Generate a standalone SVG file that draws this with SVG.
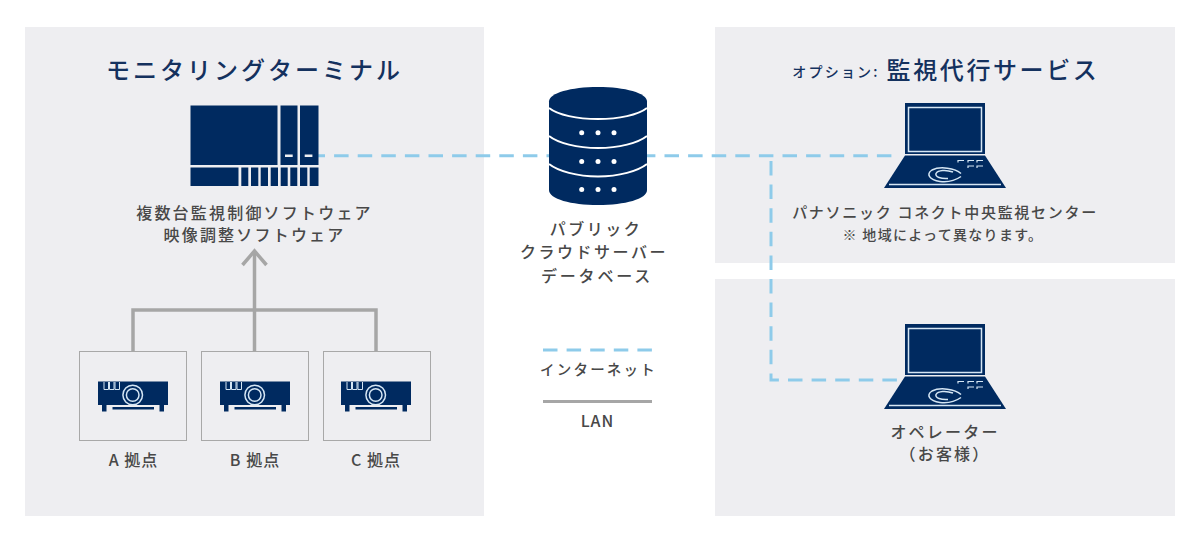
<svg xmlns="http://www.w3.org/2000/svg" width="1200" height="542" viewBox="0 0 1200 542">
<style>
text{font-family:"Noto Sans CJK JP","Noto Sans",sans-serif;text-anchor:middle}
.p{fill:#eeeef1}
.l{font-size:16px;font-weight:500;letter-spacing:2.200px;fill:#484848}
.t{font-size:24px;font-weight:500;letter-spacing:3px;fill:#14315e}
.s{font-size:16px;letter-spacing:1px}
.n{fill:#002a60}
.net{fill:none;stroke:#8ecbea;stroke-width:3;stroke-dasharray:14.500 9.100}
.lan{fill:none;stroke:#a6a6a6;stroke-width:3.500}
.box{fill:#eeeef1;stroke:#a8a8a8;stroke-width:1}
.lt{fill:none;stroke:#d5e6f4;stroke-width:1.500}
</style>
<defs>
<g id="projector">
<rect class="n" x="98" y="381.500" width="70" height="23.500"/>
<rect class="n" x="102" y="405" width="4.500" height="6.500"/>
<rect class="n" x="159.500" y="405" width="4.500" height="6.500"/>
<rect class="n" x="112.500" y="407" width="41.500" height="2.500"/>
<path class="lt" style="stroke-width:1" d="M104 382v7.500h4.500v-7.500M109.500 382v7.500h4.500v-7.500M115 382v7.500h4.500v-7.500"/>
<circle cx="132.700" cy="395" r="9.800" class="lt"/>
<circle cx="132.700" cy="395" r="6.300" class="lt"/>
</g>
<g id="laptop">
<rect class="n" x="905" y="103" width="80" height="51"/>
<rect x="908.500" y="107.500" width="73" height="44" fill="none" stroke="#d5e6f4" stroke-width="1.500"/>
<path class="n" d="M905 155.500H985L1006 188H884Z"/>
<path class="lt" d="M889 184.500H1001"/>
<path class="lt" style="stroke-width:1.200" d="M958 162.500v-2h6M968 162.500v-2h6M977 162.500v-2h6M968 168v-2h6M977 168v-2h6"/>
<path class="lt" d="M961 173.500C955 168 940 166 932 170C926 174 929 180 940 181.500C948 182.500 956 180 961 176.500M953 172C946 169.500 938 170 936 173.500C935 177 941 179 948 178.500"/>
</g>
</defs>
<rect width="1200" height="542" fill="#fff"/>
<g id="panels">
<rect class="p" x="25" y="27" width="459" height="489"/>
<rect class="p" x="715" y="27" width="460" height="236"/>
<rect class="p" x="715" y="279" width="460" height="237"/>
</g>
<g id="connectors">
<path class="net" stroke-dashoffset="7.500" d="M318 155.700H893"/>
<path class="net" d="M771 161V380H897"/>
<path class="lan" d="M133 351V310H376V351M254.500 351V252"/>
<path class="lan" d="M242.500 265L254.500 251L266.500 265"/>
<path class="net" d="M543 350H652"/>
<path class="lan" style="stroke-width:3" d="M543 401.500H652"/>
</g>
<text class="t" x="254.500" y="79">モニタリングターミナル</text>
<g id="terminal">
<rect class="n" x="190.500" y="105.500" width="87" height="59.500"/>
<rect class="n" x="280.500" y="105.500" width="17" height="59.500"/>
<rect class="n" x="300" y="105.500" width="18.500" height="59.500"/>
<rect class="n" x="190.500" y="167.500" width="48" height="18.500"/>
<rect class="n" x="241.300" y="167.500" width="7" height="18.500"/>
<rect class="n" x="251" y="167.500" width="7.300" height="18.500"/>
<rect class="n" x="260.700" y="167.500" width="7.300" height="18.500"/>
<rect class="n" x="270.700" y="167.500" width="7.300" height="18.500"/>
<rect class="n" x="280.700" y="167.500" width="7" height="18.500"/>
<rect class="n" x="290.300" y="167.500" width="7" height="18.500"/>
<rect class="n" x="300" y="167.500" width="7.300" height="18.500"/>
<rect class="n" x="309.700" y="167.500" width="8.800" height="18.500"/>
<rect x="285" y="154.500" width="7.700" height="2.500" fill="#eeeef1"/>
<rect x="304.700" y="154.500" width="7.700" height="2.500" fill="#eeeef1"/>
<text class="l" x="254.500" y="218.500">複数台監視制御ソフトウェア</text>
<text class="l" x="254.500" y="240.500">映像調整ソフトウェア</text>
</g>
<g id="site-a">
<rect class="box" x="79.500" y="351.500" width="107" height="89"/>
<use href="#projector"/>
<text class="l s" x="133.500" y="466">A 拠点</text>
</g>
<g id="site-b">
<rect class="box" x="201.500" y="351.500" width="107" height="89"/>
<use href="#projector" x="122"/>
<text class="l s" x="255" y="466">B 拠点</text>
</g>
<g id="site-c">
<rect class="box" x="323.500" y="351.500" width="107" height="89"/>
<use href="#projector" x="243"/>
<text class="l s" x="376" y="466">C 拠点</text>
</g>
<g id="server">
<path class="n" d="M549 101.500C549 93 571 87 598 87S647 93 647 101.500V190C647 199 625 205 598 205S549 199 549 190Z"/>
<path d="M549 108C558 115 577 119 598 119S638 115 647 108M549 136C558 143 577 148 598 148S638 143 647 136M549 164C558 171 577 176.500 598 176.500S638 171 647 164" fill="none" stroke="#fff" stroke-width="2"/>
<g fill="#fff">
<circle cx="581.700" cy="132.700" r="2.500"/><circle cx="598" cy="132.700" r="2.500"/><circle cx="614" cy="132.700" r="2.500"/>
<circle cx="581.700" cy="161.500" r="2.500"/><circle cx="598" cy="161.500" r="2.500"/><circle cx="614" cy="161.500" r="2.500"/>
<circle cx="581.700" cy="189.500" r="2.500"/><circle cx="598" cy="189.500" r="2.500"/><circle cx="614" cy="189.500" r="2.500"/>
</g>
<text class="l" x="596" y="235" style="letter-spacing:2.500px">パブリック</text>
<text class="l" x="594" y="258" style="letter-spacing:2.500px">クラウドサーバー</text>
<text class="l" x="597" y="282" style="letter-spacing:2.800px">データベース</text>
</g>
<g id="legend">
<text class="l" x="598.500" y="375" style="font-size:14.500px">インターネット</text>
<text class="l s" x="597.500" y="427">LAN</text>
</g>
<g id="center">
<text x="836" y="77" style="font-size:14px;font-weight:500;letter-spacing:2.200px;fill:#14315e">オプション:</text>
<text class="t" x="993" y="79" style="letter-spacing:2.600px">監視代行サービス</text>
<use href="#laptop"/>
<text class="l" x="945" y="218" style="font-size:15px;letter-spacing:1.700px">パナソニック コネクト中央監視センター</text>
<text class="l" x="943" y="240" style="font-size:14px;letter-spacing:1.300px">※ 地域によって異なります。</text>
</g>
<g id="operator">
<use href="#laptop" y="221"/>
<text class="l" x="945" y="438">オペレーター</text>
<text class="l" x="945" y="460">（お客様）</text>
</g>
</svg>
